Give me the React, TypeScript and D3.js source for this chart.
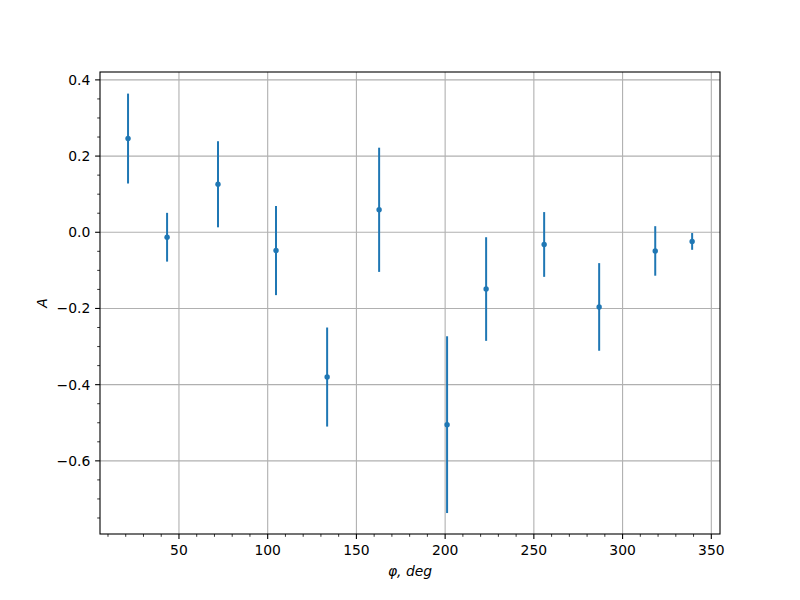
import React from "react";
import * as d3 from "d3";

const phi = [21.3, 43.3, 72.0, 104.7, 133.5, 162.8, 201.1, 223.1, 255.8, 286.8, 318.4, 339.2];
const amp = [0.246, -0.013, 0.126, -0.048, -0.38, 0.059, -0.505, -0.149, -0.032, -0.196, -0.049, -0.024];
const err = [0.118, 0.064, 0.113, 0.117, 0.13, 0.163, 0.232, 0.136, 0.085, 0.115, 0.065, 0.022];
const xTicks = [50, 100, 150, 200, 250, 300, 350];
const yTicks = [-0.6, -0.4, -0.2, 0.0, 0.2, 0.4];

const W = 800, H = 600;
const L = 100, R = 720, T = 72, B = 534;
const BLUE = "#1f77b4";
const FONT = "DejaVu Sans, sans-serif";

export default function App() {
  const x = d3.scaleLinear().domain([5.5, 354.9]).range([L, R]);
  const y = d3.scaleLinear().domain([-0.792, 0.4207]).range([B, T]);
  const xMinor = d3.range(10, 355, 10).filter((v) => v % 50 !== 0 && v > 5.5);
  const yMinor = d3.range(-0.75, 0.42, 0.05)
    .map((v) => Math.round(v * 100) / 100)
    .filter((v) => Math.abs(Math.round(v * 100)) % 20 !== 0);
  const fmt = (v: number) => (v < 0 ? "\u2212" : "") + Math.abs(v).toFixed(1);
  const line = d3.line<[number, number]>();
  return (
    <svg width={W} height={H} style={{ display: "block", position: "absolute", left: 0, top: 0 }} fontFamily={FONT}>
      <rect x={0} y={0} width={W} height={H} fill="white" />
      {/* grid */}
      {xTicks.map((t) => (
        <line key={"gx" + t} x1={x(t)} x2={x(t)} y1={T} y2={B} stroke="#b0b0b0" strokeWidth={1.1} />
      ))}
      {yTicks.map((t) => (
        <line key={"gy" + t} x1={L} x2={R} y1={y(t)} y2={y(t)} stroke="#b0b0b0" strokeWidth={1.1} />
      ))}
      {/* error bars */}
      {phi.map((p, i) => (
        <path key={"e" + i} d={line([[x(p), y(amp[i] - err[i])], [x(p), y(amp[i] + err[i])]]) || ""} stroke={BLUE} strokeWidth={2} fill="none" />
      ))}
      {phi.map((p, i) => (
        <circle key={"p" + i} cx={x(p)} cy={y(amp[i])} r={2.7} fill={BLUE} />
      ))}
      {/* spines */}
      <rect x={L} y={T} width={R - L} height={B - T} fill="none" stroke="black" strokeWidth={1.1} />
      {/* x ticks */}
      {xTicks.map((t) => (
        <g key={"xt" + t}>
          <line x1={x(t)} x2={x(t)} y1={B} y2={B + 4.9} stroke="black" strokeWidth={1.1} />
          <text x={x(t)} y={555} textAnchor="middle" fontSize={13.9}>{t}</text>
        </g>
      ))}
      {xMinor.map((t) => (
        <line key={"xm" + t} x1={x(t)} x2={x(t)} y1={B} y2={B + 2.8} stroke="black" strokeWidth={0.8} />
      ))}
      {/* y ticks */}
      {yTicks.map((t) => (
        <g key={"yt" + t}>
          <line x1={L} x2={L - 4.9} y1={y(t)} y2={y(t)} stroke="black" strokeWidth={1.1} />
          <text x={90.3} y={y(t)} dy="0.36em" textAnchor="end" fontSize={13.9}>{fmt(t)}</text>
        </g>
      ))}
      {yMinor.map((t) => (
        <line key={"ym" + t} x1={L} x2={L - 2.8} y1={y(t)} y2={y(t)} stroke="black" strokeWidth={0.8} />
      ))}
      {/* labels */}
      <text x={(L + R) / 2} y={576} textAnchor="middle" fontSize={13.9} fontStyle="italic">φ, deg</text>
      <text transform={`translate(47,${(T + B) / 2}) rotate(-90)`} textAnchor="middle" fontSize={13.9} fontStyle="italic">A</text>
    </svg>
  );
}
